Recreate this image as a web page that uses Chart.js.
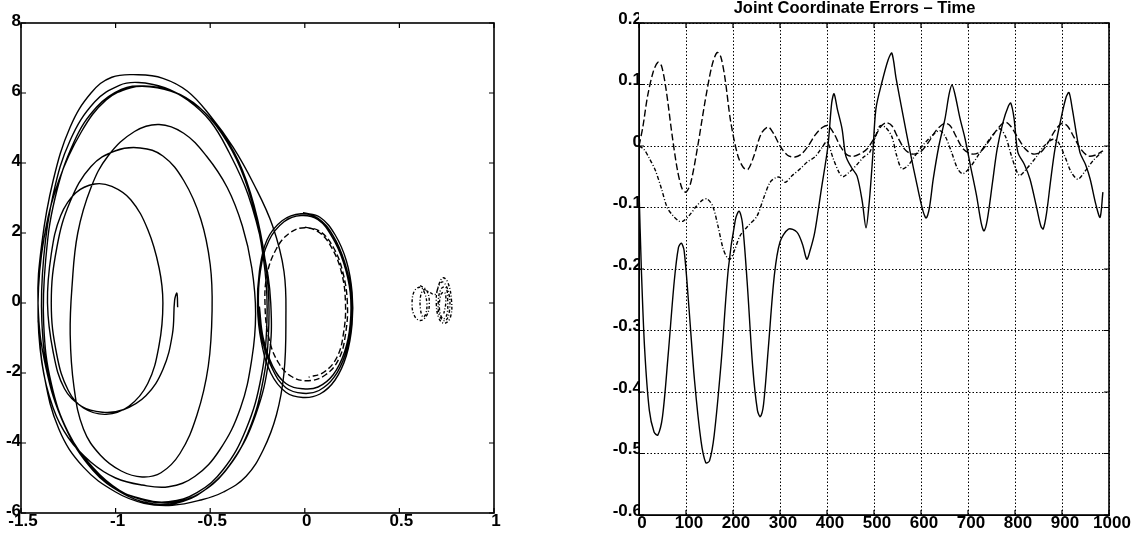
<!DOCTYPE html>
<html lang="en">
<head>
    <meta charset="UTF-8">
    <title>Joint Coordinate Errors - Time</title>
    <script src="https://cdn.jsdelivr.net/npm/chart.js"></script>
    <style>
        body {
            margin: 0;
            background: #fff;
        }

        .wrap {
            position: relative;
            width: 1139px;
            height: 535px;
        }

        #phaseChart {
            position: absolute;
            left: 0;
            top: 0;
        }

        #errorChart {
            position: absolute;
            left: 560px;
            top: 0;
        }
    </style>
</head>
<body>
    <div class="wrap">
        <canvas id="phaseChart" width="560" height="535"></canvas>
        <canvas id="errorChart" width="579" height="535"></canvas>
    </div>

    <script>
        // phase plane: main trajectory spiralling outwards (solid)
        const phaseMain = [
            [-0.672, -0.12], [-0.676, 0.28], [-0.688, 0.08],
            [-0.70, -0.9], [-0.75, -1.9], [-0.84, -2.65], [-0.96, -3.05], [-1.07, -3.12], [-1.18, -2.95], [-1.27, -2.45],
            [-1.33, -1.4], [-1.36, 0.0], [-1.34, 1.4], [-1.29, 2.5], [-1.21, 3.15], [-1.11, 3.4], [-1.02, 3.33],
            [-0.92, 2.95], [-0.83, 2.1], [-0.77, 1.0], [-0.75, 0.0], [-0.77, -1.2], [-0.83, -2.3], [-0.93, -2.95], [-1.05, -3.18],
            [-1.17, -3.0], [-1.25, -2.5], [-1.31, -1.5], [-1.34, 0.0], [-1.31, 1.6], [-1.24, 2.9], [-1.13, 3.9], [-1.0, 4.35],
            [-0.87, 4.43], [-0.75, 4.2], [-0.64, 3.5], [-0.55, 2.4], [-0.50, 1.1], [-0.49, -0.2], [-0.51, -1.8], [-0.57, -3.2],
            [-0.66, -4.3], [-0.76, -4.85], [-0.86, -4.97],
            [-0.97, -4.8], [-1.08, -4.35], [-1.17, -3.6], [-1.22, -2.4], [-1.24, -0.9], [-1.23, 0.5], [-1.2, 2.0], [-1.13, 3.3],
            [-1.04, 4.2], [-0.90, 4.9], [-0.77, 5.1], [-0.64, 4.85], [-0.52, 4.2], [-0.41, 3.3], [-0.33, 2.2], [-0.28, 1.0],
            [-0.26, -0.3], [-0.28, -1.6], [-0.34, -3.0], [-0.45, -4.2], [-0.58, -4.95], [-0.72, -5.25], [-0.86, -5.2],
            [-1.0, -5.0], [-1.13, -4.55], [-1.25, -3.85], [-1.33, -3.0], [-1.39, -1.7], [-1.41, 0.0], [-1.38, 1.8], [-1.30, 3.5],
            [-1.18, 4.9], [-1.05, 5.8], [-0.92, 6.15], [-0.82, 6.18], [-0.68, 6.0], [-0.55, 5.55], [-0.43, 4.8], [-0.33, 3.8],
            [-0.25, 2.4], [-0.20, 0.8], [-0.19, -0.6], [-0.22, -2.2], [-0.30, -3.7], [-0.42, -4.8], [-0.56, -5.45], [-0.70, -5.7],
            [-0.84, -5.65], [-0.98, -5.35], [-1.12, -4.7], [-1.25, -3.7], [-1.34, -2.3], [-1.38, -0.6], [-1.37, 1.2], [-1.32, 3.0],
            [-1.22, 4.6], [-1.10, 5.6], [-0.97, 6.1], [-0.85, 6.2], [-0.70, 6.05], [-0.56, 5.6], [-0.44, 4.85], [-0.34, 3.85],
            [-0.26, 2.5], [-0.21, 0.9], [-0.20, -0.5], [-0.23, -2.1], [-0.31, -3.6], [-0.43, -4.75], [-0.57, -5.42], [-0.72, -5.68],
            [-0.86, -5.6], [-1.0, -5.3], [-1.14, -4.62], [-1.26, -3.6], [-1.35, -2.2], [-1.39, -0.5], [-1.38, 1.3], [-1.33, 3.1],
            [-1.24, 4.65], [-1.11, 5.75], [-0.98, 6.22], [-0.88, 6.3], [-0.74, 6.15], [-0.62, 5.8], [-0.50, 5.2], [-0.40, 4.3],
            [-0.30, 3.1], [-0.22, 1.5], [-0.18, 0.0], [-0.19, -1.6], [-0.26, -3.2], [-0.38, -4.5], [-0.53, -5.35], [-0.68, -5.72],
            [-0.82, -5.72], [-0.96, -5.45], [-1.12, -4.78], [-1.27, -3.5], [-1.37, -1.8], [-1.41, 0.0], [-1.39, 1.7], [-1.33, 3.5],
            [-1.24, 5.03], [-1.13, 6.0], [-1.02, 6.45], [-0.88, 6.52], [-0.75, 6.42], [-0.62, 6.05], [-0.50, 5.35], [-0.38, 4.46],
            [-0.27, 3.4], [-0.17, 2.2], [-0.11, 0.9], [-0.10, -0.5], [-0.11, -2.0], [-0.15, -3.2], [-0.22, -4.2], [-0.31, -4.95],
            [-0.43, -5.4], [-0.55, -5.63], [-0.70, -5.78], [-0.85, -5.72], [-1.0, -5.4], [-1.17, -4.69], [-1.30, -3.6],
            [-1.38, -2.0], [-1.41, -0.5]
        ];

        // small loop around the origin (solid, several turns)
        const phaseLoop = [
            [-0.01, 2.58], [0.08, 2.45], [0.16, 1.95], [0.22, 1.2], [0.25, 0.3], [0.25, -0.6], [0.22, -1.5], [0.16, -2.2],
            [0.08, -2.6], [-0.01, -2.7], [-0.1, -2.55], [-0.18, -2.0], [-0.23, -1.1], [-0.25, -0.1], [-0.24, 0.9], [-0.2, 1.8],
            [-0.12, 2.35], [-0.02, 2.55], [0.07, 2.42], [0.15, 1.92], [0.21, 1.18], [0.245, 0.3], [0.245, -0.6], [0.215, -1.45],
            [0.155, -2.12], [0.075, -2.5], [-0.01, -2.58], [-0.1, -2.42], [-0.17, -1.9], [-0.225, -1.05], [-0.245, -0.1],
            [-0.235, 0.9], [-0.19, 1.78], [-0.11, 2.32], [-0.02, 2.5], [0.07, 2.38], [0.145, 1.88], [0.205, 1.15], [0.24, 0.3],
            [0.24, -0.6], [0.21, -1.4], [0.15, -2.05], [0.07, -2.4], [-0.01, -2.45], [-0.1, -2.3], [-0.17, -1.8], [-0.22, -1.0],
            [-0.24, -0.1]
        ];

        // dashed loop inside it
        const phaseLoopDashed = [
            [0.0, 2.17], [0.08, 2.05], [0.15, 1.6], [0.2, 0.9], [0.225, 0.0], [0.215, -0.9], [0.18, -1.6], [0.11, -2.05],
            [0.02, -2.22], [-0.07, -2.1], [-0.14, -1.7], [-0.19, -1.0], [-0.21, -0.1], [-0.2, 0.8], [-0.15, 1.55], [-0.08, 2.0],
            [0.0, 2.15], [0.08, 2.0], [0.145, 1.55], [0.195, 0.85], [0.215, 0.0], [0.205, -0.85], [0.17, -1.55], [0.1, -1.98],
            [0.02, -2.12]
        ];

        // dash-dot cluster near x = 0.7
        const phaseCluster = [
            [0.61, 0.5], [0.645, 0.35], [0.658, 0.0], [0.645, -0.35], [0.61, -0.5], [0.578, -0.35], [0.567, 0.0], [0.58, 0.35],
            [0.61, 0.45], [0.632, 0.3], [0.645, 0.0], [0.64, -0.3], [0.625, -0.4], [0.612, -0.2], [0.612, 0.2], [0.63, 0.38],
            [0.66, 0.3], [0.69, 0.25], [0.71, 0.55], [0.73, 0.72], [0.755, 0.6], [0.775, 0.1], [0.77, -0.4], [0.74, -0.58],
            [0.71, -0.45], [0.695, 0.0], [0.705, 0.45], [0.73, 0.6], [0.76, 0.3], [0.765, -0.2], [0.745, -0.5], [0.715, -0.4],
            [0.705, 0.0], [0.72, 0.4], [0.745, 0.45], [0.755, 0.1], [0.75, -0.35], [0.73, -0.45], [0.712, -0.2], [0.72, 0.25],
            [0.74, 0.3], [0.745, 0.0], [0.735, -0.3]
        ];

        // joint coordinate errors vs time: [t, error]
        const error1 = [
            [0, -0.07], [5, -0.2], [12, -0.33], [22, -0.43], [32, -0.465], [40, -0.47], [50, -0.44], [62, -0.34], [75, -0.22],
            [84, -0.165], [90, -0.158], [96, -0.17], [105, -0.25], [118, -0.38], [132, -0.48], [142, -0.515], [150, -0.512],
            [160, -0.47], [175, -0.35], [190, -0.2], [205, -0.12], [213, -0.106], [220, -0.125], [230, -0.22], [242, -0.36],
            [252, -0.43], [258, -0.44], [265, -0.42], [275, -0.33], [288, -0.21], [300, -0.156], [318, -0.135], [336, -0.14],
            [348, -0.16], [357, -0.184], [364, -0.17], [374, -0.14], [388, -0.07], [402, 0.0], [410, 0.07], [415, 0.085],
            [422, 0.06], [432, 0.028], [440, -0.016], [452, -0.035], [464, -0.049], [475, -0.09], [483, -0.133], [490, -0.09],
            [497, -0.02], [504, 0.06], [517, 0.104], [530, 0.14], [538, 0.151], [547, 0.11], [562, 0.049], [577, -0.01],
            [592, -0.065], [604, -0.105], [611, -0.117], [618, -0.1], [626, -0.054], [638, 0.0], [651, 0.044], [660, 0.085],
            [666, 0.099], [672, 0.085], [683, 0.045], [694, 0.011], [706, -0.035], [718, -0.08], [728, -0.125], [734, -0.138],
            [741, -0.12], [752, -0.06], [762, -0.005], [775, 0.04], [786, 0.065], [791, 0.07], [798, 0.045], [806, -0.01],
            [820, -0.03], [832, -0.054], [846, -0.1], [855, -0.13], [860, -0.135], [867, -0.11], [876, -0.055], [885, -0.005],
            [898, 0.045], [909, 0.08], [915, 0.087], [922, 0.06], [938, -0.01], [950, -0.03], [960, -0.054], [972, -0.095],
            [981, -0.116], [987, -0.075]
        ];

        const error2 = [
            [0, 0.0], [8, 0.03], [18, 0.08], [30, 0.12], [40, 0.136], [48, 0.13], [58, 0.09], [70, 0.02], [82, -0.04],
            [92, -0.07], [100, -0.075], [110, -0.06], [125, 0.0], [140, 0.07], [155, 0.13], [166, 0.152], [174, 0.145],
            [183, 0.11], [195, 0.04], [210, -0.015], [222, -0.035], [232, -0.038], [245, -0.015], [260, 0.02], [275, 0.031],
            [288, 0.018], [300, 0.0], [316, -0.015], [332, -0.018], [346, -0.013], [360, 0.0], [375, 0.018], [390, 0.03],
            [402, 0.033], [415, 0.02], [428, 0.0], [442, -0.014], [455, -0.017], [470, -0.013], [485, -0.005], [500, 0.012],
            [515, 0.032], [526, 0.038], [538, 0.033], [550, 0.015], [565, -0.005], [580, -0.013], [598, -0.01], [615, 0.005],
            [632, 0.025], [650, 0.037], [662, 0.033], [675, 0.015], [690, -0.005], [708, -0.013], [725, -0.01], [742, 0.005],
            [760, 0.025], [778, 0.039], [790, 0.033], [805, 0.015], [822, -0.005], [838, -0.013], [855, -0.01], [870, 0.005],
            [885, 0.025], [900, 0.037], [912, 0.032], [925, 0.015], [940, -0.005], [955, -0.016], [970, -0.015], [987, -0.008]
        ];

        const error3 = [
            [0, 0.0], [10, -0.005], [22, -0.02], [35, -0.04], [48, -0.07], [60, -0.1], [72, -0.113], [85, -0.122],
            [94, -0.122], [108, -0.112], [122, -0.098], [135, -0.088], [145, -0.086], [157, -0.098], [168, -0.13],
            [179, -0.167], [188, -0.182], [194, -0.184], [203, -0.17], [215, -0.146], [232, -0.13], [251, -0.114],
            [265, -0.085], [279, -0.059], [292, -0.051], [300, -0.051], [311, -0.059], [326, -0.048], [343, -0.037],
            [358, -0.026], [374, -0.018], [388, -0.004], [400, 0.007], [413, -0.02], [425, -0.042], [434, -0.05], [448, -0.042],
            [464, -0.03], [478, -0.018], [491, -0.01], [503, 0.015], [513, 0.033], [525, 0.03], [538, 0.015], [548, -0.015],
            [559, -0.037], [572, -0.032], [588, -0.015], [606, 0.003], [625, 0.018], [640, 0.025], [652, 0.015], [665, -0.01],
            [678, -0.037], [689, -0.045], [704, -0.035], [722, -0.015], [740, 0.005], [755, 0.02], [768, 0.028], [780, 0.015],
            [792, -0.015], [803, -0.04], [810, -0.048], [826, -0.036], [845, -0.018], [862, 0.0], [881, 0.011], [893, 0.005],
            [906, -0.017], [920, -0.043], [934, -0.054], [950, -0.04], [966, -0.024], [987, -0.008]
        ];

        const fontFamily = 'Liberation Sans, Arial, sans-serif';
        const tickFont = { family: fontFamily, size: 17, weight: 'bold' };
        Chart.defaults.font.family = fontFamily;
        Chart.defaults.color = '#000';

        const toXY = pts => pts.map(p => ({ x: p[0], y: p[1] }));
        // plain labels: "-1", "0.5", "1000"
        const plainLabel = v => String(Math.round(v * 10) / 10);

        function curve(pts, dash, tension) {
            return {
                data: toXY(pts),
                showLine: true,
                borderColor: '#000',
                borderWidth: 1.4,
                borderDash: dash,
                pointRadius: 0,
                tension: tension,
                fill: false
            };
        }

        // box around the plot area plus MATLAB style inward tick marks
        const boxTicks = {
            id: 'boxTicks',
            afterDraw(chart) {
                const { ctx, chartArea: a, scales } = chart;
                ctx.save();
                ctx.strokeStyle = '#000';
                ctx.setLineDash([]);
                ctx.lineWidth = 1.6;
                ctx.strokeRect(a.left, a.top, a.right - a.left, a.bottom - a.top);
                ctx.lineWidth = 1.2;
                ctx.beginPath();
                scales.x.ticks.forEach(t => {
                    const px = scales.x.getPixelForValue(t.value);
                    ctx.moveTo(px, a.bottom);
                    ctx.lineTo(px, a.bottom - 5);
                    ctx.moveTo(px, a.top);
                    ctx.lineTo(px, a.top + 5);
                });
                scales.y.ticks.forEach(t => {
                    const py = scales.y.getPixelForValue(t.value);
                    ctx.moveTo(a.left, py);
                    ctx.lineTo(a.left + 5, py);
                    ctx.moveTo(a.right, py);
                    ctx.lineTo(a.right - 5, py);
                });
                ctx.stroke();
                ctx.restore();
            }
        };

        function loadPhaseChart() {
            const ctx = document.getElementById('phaseChart').getContext('2d');
            new Chart(ctx, {
                type: 'scatter',
                data: {
                    datasets: [
                        curve(phaseMain, [], 0.4),
                        curve(phaseLoop, [], 0.4),
                        curve(phaseLoopDashed, [6, 3], 0.4),
                        curve(phaseCluster, [3, 2, 1, 2], 0.4)
                    ]
                },
                options: {
                    responsive: false,
                    animation: false,
                    layout: { padding: { top: 23, right: 66, left: 0, bottom: 0 } },
                    plugins: { legend: { display: false }, tooltip: { enabled: false } },
                    scales: {
                        x: {
                            type: 'linear',
                            min: -1.5,
                            max: 1,
                            grid: { display: false, drawTicks: false },
                            border: { display: false },
                            ticks: {
                                stepSize: 0.5, autoSkip: false, maxRotation: 0, font: tickFont,
                                padding: -2, labelOffset: 2, callback: plainLabel
                            },
                            afterFit(scale) { scale.height = 22; }
                        },
                        y: {
                            type: 'linear',
                            min: -6,
                            max: 8,
                            grid: { display: false, drawTicks: false },
                            border: { display: false },
                            ticks: {
                                stepSize: 2, autoSkip: false, font: tickFont,
                                padding: 0, labelOffset: -2, callback: plainLabel
                            },
                            afterFit(scale) { scale.width = 21; }
                        }
                    }
                },
                plugins: [boxTicks]
            });
        }

        function loadErrorChart() {
            const ctx = document.getElementById('errorChart').getContext('2d');
            const dotted = { display: true, color: '#000', width: 1, dash: [1.5, 2] };
            new Chart(ctx, {
                type: 'scatter',
                data: {
                    datasets: [
                        curve(error1, [], 0.3),
                        curve(error2, [7, 3], 0.3),
                        curve(error3, [4, 2, 1, 2], 0.3)
                    ]
                },
                options: {
                    responsive: false,
                    animation: false,
                    layout: { padding: { top: 0, right: 30, left: 40, bottom: 0 } },
                    plugins: {
                        legend: { display: false },
                        tooltip: { enabled: false },
                        title: {
                            display: true,
                            text: 'Joint Coordinate Errors \u2013 Time',
                            color: '#000',
                            font: { family: fontFamily, size: 16.5, weight: 'bold', lineHeight: 1 },
                            padding: { top: 0, bottom: 6.5 }
                        }
                    },
                    scales: {
                        x: {
                            type: 'linear',
                            min: 0,
                            max: 1000,
                            grid: { color: '#000', lineWidth: 1, drawTicks: false },
                            border: dotted,
                            ticks: {
                                stepSize: 100, autoSkip: false, maxRotation: 0, font: tickFont,
                                padding: -2, labelOffset: 3, callback: plainLabel
                            },
                            afterFit(scale) { scale.height = 20; }
                        },
                        y: {
                            type: 'linear',
                            min: -0.6,
                            max: 0.2,
                            grid: { color: '#000', lineWidth: 1, drawTicks: false },
                            border: dotted,
                            ticks: {
                                stepSize: 0.1, autoSkip: false, font: tickFont,
                                padding: -3, labelOffset: -4, callback: plainLabel
                            },
                            afterFit(scale) { scale.width = 39; }
                        }
                    }
                },
                plugins: [boxTicks]
            });
        }

        window.onload = function () {
            loadPhaseChart();
            loadErrorChart();
        };
    </script>
</body>
</html>
